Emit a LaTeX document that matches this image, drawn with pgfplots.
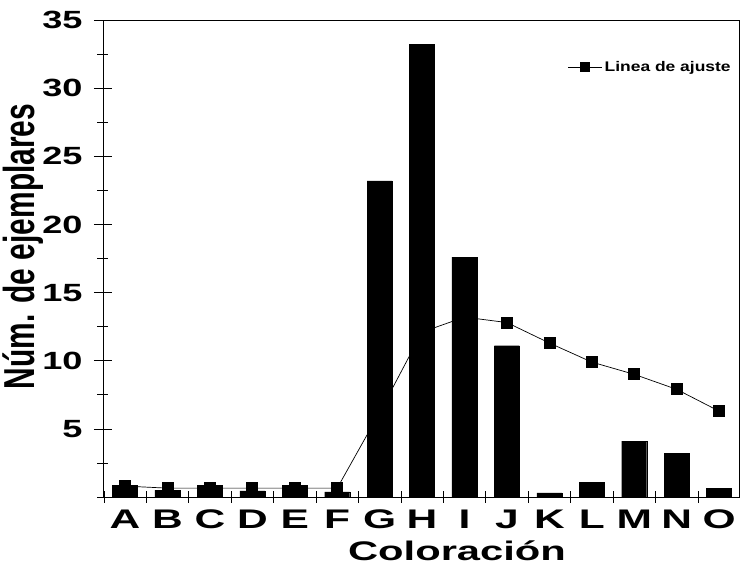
\documentclass[border=0pt]{standalone}
\usepackage{fontspec}
\setmainfont{Liberation Sans}
\usepackage{graphicx}
\usepackage{pgfplots}
\pgfplotsset{compat=1.18}
\newcommand{\sx}[1]{\scalebox{1.58}[1]{#1}}

\begin{document}
\begin{tikzpicture}
\path[use as bounding box] (-103bp,-76bp) rectangle (638bp,497bp);
\begin{axis}[
  scale only axis,
  width=636bp, height=477bp,
  xmin=-0.52, xmax=14.47,
  ymin=0, ymax=35,
  ytick={5,10,...,35},
  minor ytick={0,2.5,...,32.5},
  xtick={0,...,14},
  xticklabels={\sx{A},\sx{B},\sx{C},\sx{D},\sx{E},\sx{F},\sx{G},\sx{H},\sx{I},\sx{J},\sx{K},\sx{L},\sx{M},\sx{N},\sx{O}},
  minor xtick={-0.5,0.5,...,13.5},
  major x tick style={draw=none},
  tick pos=left,
  tick align=center,
  major tick length=18bp,
  minor tick length=11bp,
  tick style={black, line width=0.6bp},
  axis line style={line width=0.9bp},
  /pgf/number format/assume math mode=true,
  yticklabel={\scalebox{1.45}[1]{\pgfmathprintnumber{\tick}}},
  yticklabel style={font=\bfseries\fontsize{25}{30}\selectfont, xshift=-8bp},
  xticklabel style={font=\bfseries\fontsize{27}{32}\selectfont},
  xlabel={\scalebox{1.55}[1]{Coloración}},
  ylabel={\scalebox{1}[1.45]{Núm. de ejemplares}},
  xlabel style={font=\bfseries\fontsize{27}{32}\selectfont, xshift=36bp, yshift=-5bp},
  ylabel style={font=\bfseries\fontsize{30}{36}\selectfont, yshift=-8bp, xshift=12bp},
  legend style={draw=none, fill=none, at={(0.995,0.901)}, anchor=east,
    font=\bfseries\fontsize{14}{16}\selectfont},
  legend image code/.code={\draw[mark repeat=2, mark phase=2, #1, mark size=4.5bp]
    plot coordinates {(0bp,0bp) (17bp,0bp) (34bp,0bp)};},
]
% fitted line (drawn first, behind the bars)
\addplot[black, line width=0.7bp, mark=square*, mark size=5.5bp] coordinates {
  (0,0.8) (1,0.65) (2,0.65) (3,0.65) (4,0.65) (5,0.65) (6,6.2) (7,12.1)
  (8,13.2) (9,12.8) (10,11.3) (11,9.9) (12,9.0) (13,7.9) (14,6.3)};
\addlegendentry{\scalebox{1.25}[1]{Linea de ajuste}}
% counts
\addplot[ybar, bar width=25bp, fill=black, draw=black, forget plot] coordinates {
  (0,0.88) (1,0.5) (2,0.88) (3,0.45) (4,0.88) (5,0.37) (6,23.2) (7,33.2)
  (8,17.6) (9,11.1) (10,0.3) (11,1.1) (12,4.1) (13,3.2) (14,0.65)};
\end{axis}
\end{tikzpicture}
\end{document}
